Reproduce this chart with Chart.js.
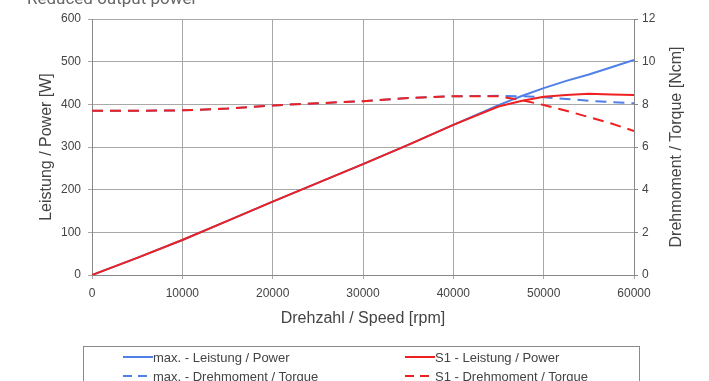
<!DOCTYPE html>
<html>
<head>
<meta charset="utf-8">
<script src="https://cdn.jsdelivr.net/npm/chart.js@4.4.1/dist/chart.umd.min.js"></script>
<style>
  html, body { margin: 0; padding: 0; background: #fff; overflow: hidden; }
  #wrap { position: relative; width: 709px; height: 381px; }
  #heading {
    position: absolute; left: 27px; top: -12px;
    font: 17px Roboto, "Liberation Sans", sans-serif; color: #666;
    white-space: nowrap;
  }
  #legend {
    position: absolute; left: 83px; top: 346px; width: 557px; height: 60px;
    border: 1px solid #8a8a8a; box-sizing: border-box;
    font: 13px "Liberation Sans", Arial, sans-serif; color: #444;
  }
  .item { position: absolute; white-space: nowrap; display: flex; align-items: center; }
</style>
</head>
<body>
<div id="wrap">
  <canvas id="motorChart" width="709" height="381"></canvas>
  <div id="heading">Reduced output power</div>
  <div id="legend"></div>
</div>
<script>
// Speed axis samples [rpm]
const speedRpm = [0, 5000, 10000, 15000, 20000, 25000, 30000, 35000, 40000, 45000, 47500, 50000, 52500, 55000, 57500, 60000];

// Power curves [W]
const maxPower = [0, 40, 82, 127, 172, 216, 260, 305, 352, 398, 419, 438, 455, 470, 487, 504];
const s1Power  = [0, 40, 82, 127, 172, 216, 260, 305, 352, 395, 408, 418, 422, 425, 423, 422];

// Torque curves [Ncm]
const maxTorque = [7.7, 7.7, 7.72, 7.8, 7.95, 8.05, 8.15, 8.3, 8.38, 8.4, 8.38, 8.33, 8.25, 8.17, 8.1, 8.05];
const s1Torque  = [7.7, 7.7, 7.72, 7.8, 7.95, 8.05, 8.15, 8.3, 8.38, 8.38, 8.2, 7.97, 7.7, 7.4, 7.1, 6.75];

const seriesLabels = [
  'max. - Leistung / Power',
  'S1 - Leistung / Power',
  'max. - Drehmoment / Torque',
  'S1 - Drehmoment / Torque'
];

const BLUE = '#4f7fe8';
const RED = '#ee2020';
const DASH = [11, 7];
const FONT = '"Liberation Sans", Arial, sans-serif';

const toPoints = vals => vals.map((v, i) => ({ x: speedRpm[i], y: v }));

// Right axis title reads bottom-to-top like the left one
const rightTitle = {
  id: 'rightTitle',
  afterDraw(chart) {
    const { ctx, chartArea } = chart;
    ctx.save();
    ctx.translate(677, (chartArea.top + chartArea.bottom) / 2);
    ctx.rotate(-Math.PI / 2);
    ctx.font = '16px ' + FONT;
    ctx.fillStyle = '#444';
    ctx.textAlign = 'center';
    ctx.textBaseline = 'middle';
    ctx.fillText('Drehmoment / Torque [Ncm]', 0, 0);
    ctx.restore();
  }
};

const gridColor = '#a8a8a8';
const tickFont = { family: FONT, size: 12 };
const titleFont = { family: FONT, size: 16 };

new Chart(document.getElementById('motorChart'), {
  type: 'line',
  data: {
    datasets: [
      { label: seriesLabels[1], data: toPoints(s1Power), borderColor: RED, yAxisID: 'y', order: 0 },
      { label: seriesLabels[3], data: toPoints(s1Torque), borderColor: RED, borderDash: DASH, yAxisID: 'y1', order: 1 },
      { label: seriesLabels[0], data: toPoints(maxPower), borderColor: BLUE, yAxisID: 'y', order: 2 },
      { label: seriesLabels[2], data: toPoints(maxTorque), borderColor: BLUE, borderDash: DASH, yAxisID: 'y1', order: 3 }
    ]
  },
  options: {
    responsive: false,
    animation: false,
    layout: { padding: { top: 19, left: 33, right: 0, bottom: 49 } },
    elements: {
      point: { radius: 0 },
      line: { borderWidth: 2, tension: 0 }
    },
    plugins: { legend: { display: false }, tooltip: { enabled: false } },
    scales: {
      x: {
        type: 'linear',
        min: 0, max: 60000,
        afterFit: s => { s.height = 57; },
        grid: { color: gridColor, tickLength: 4 },
        border: { color: '#888' },
        ticks: { stepSize: 10000, color: '#444', font: tickFont, padding: 7, maxRotation: 0,
                 callback: v => String(v) },
        title: { display: true, text: 'Drehzahl / Speed [rpm]', color: '#444', font: titleFont }
      },
      y: {
        position: 'left',
        min: 0, max: 600,
        afterFit: s => { s.width = 59; },
        grid: { color: gridColor, tickLength: 4 },
        border: { color: '#888' },
        ticks: { stepSize: 100, color: '#444', font: tickFont, padding: 7 },
        title: { display: true, text: 'Leistung / Power [W]', color: '#444', font: titleFont }
      },
      y1: {
        position: 'right',
        min: 0, max: 12,
        afterFit: s => { s.width = 75; },
        grid: { drawOnChartArea: false, color: '#888', tickLength: 4 },
        border: { color: '#888' },
        ticks: { stepSize: 2, color: '#444', font: tickFont, padding: 4 }
      }
    }
  },
  plugins: [rightTitle]
});

// Boxed legend below the chart
const legendItems = [
  { text: seriesLabels[0], color: BLUE, dashed: false, left: 39, top: 3 },
  { text: seriesLabels[1], color: RED, dashed: false, left: 321, top: 3 },
  { text: seriesLabels[2], color: BLUE, dashed: true, left: 39, top: 22 },
  { text: seriesLabels[3], color: RED, dashed: true, left: 321, top: 22 }
];
const legendBox = document.getElementById('legend');
legendItems.forEach(it => {
  const el = document.createElement('div');
  el.className = 'item';
  el.style.left = it.left + 'px';
  el.style.top = it.top + 'px';
  const dash = it.dashed ? 'stroke-dasharray="9 6"' : '';
  el.innerHTML = '<svg width="30" height="14"><line x1="0" y1="6" x2="30" y2="6" stroke="' + it.color +
    '" stroke-width="2" ' + dash + '/></svg><span>' + it.text + '</span>';
  legendBox.appendChild(el);
});
</script>
</body>
</html>
